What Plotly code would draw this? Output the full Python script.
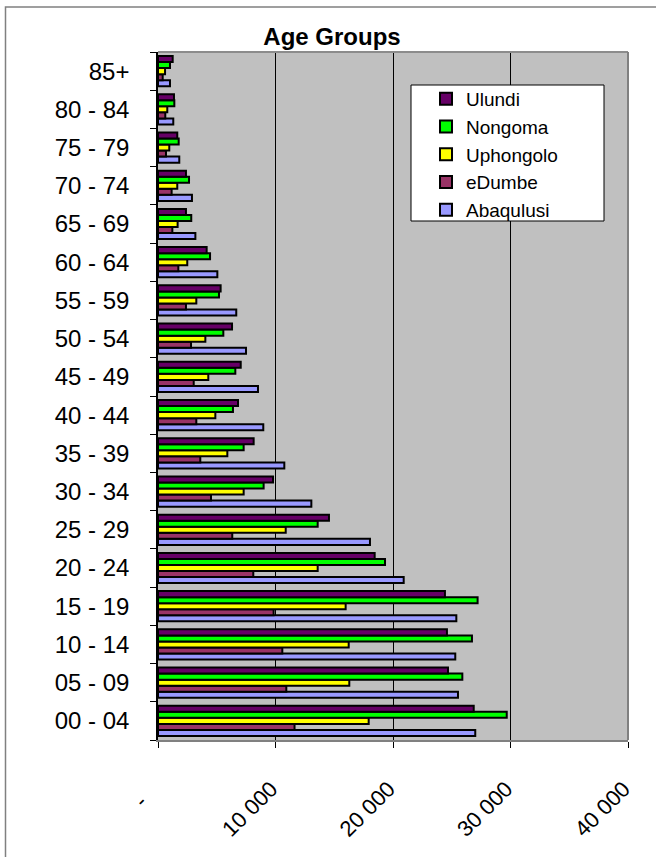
import plotly.graph_objects as go

categories = ["00 - 04", "05 - 09", "10 - 14", "15 - 19", "20 - 24", "25 - 29",
              "30 - 34", "35 - 39", "40 - 44", "45 - 49", "50 - 54", "55 - 59",
              "60 - 64", "65 - 69", "70 - 74", "75 - 79", "80 - 84", "85+"]

ulundi = [26870, 24680, 24590, 24420, 18440, 14550, 9790, 8140, 6810, 7040,
          6300, 5330, 4140, 2380, 2380, 1640, 1360, 1250]
nongoma = [29680, 25900, 26720, 27200, 19320, 13590, 8990, 7290, 6380, 6580,
           5560, 5190, 4430, 2830, 2640, 1760, 1390, 1020]
uphongolo = [17930, 16280, 16230, 15970, 13590, 10870, 7290, 5900, 4880, 4280,
             4030, 3260, 2490, 1670, 1640, 960, 790, 600]
edumbe = [11620, 10920, 10580, 9840, 8110, 6320, 4510, 3600, 3260, 3040,
          2810, 2380, 1730, 1220, 1160, 680, 620, 400]
abaqulusi = [27000, 25530, 25300, 25390, 20910, 18040, 13050, 10750, 8960, 8510,
             7490, 6660, 5050, 3180, 2890, 1810, 1300, 1020]

x_tickvals = [0, 10000, 20000, 30000, 40000]
x_ticktext = ["-\u00a0\u00a0\u00a0\u00a0", "10 000\u00a0", "20 000\u00a0",
              "30 000\u00a0", "40 000\u00a0"]

series = [
    ("Abaqulusi", abaqulusi, "#9999FF"),
    ("eDumbe", edumbe, "#993366"),
    ("Uphongolo", uphongolo, "#FFFF00"),
    ("Nongoma", nongoma, "#00FF00"),
    ("Ulundi", ulundi, "#660066"),
]

FONT = "Arial, Liberation Sans, sans-serif"

fig = go.Figure()
for name, vals, color in series:
    fig.add_trace(go.Bar(
        y=categories, x=vals, name=name, orientation="h",
        marker=dict(color=color, line=dict(color="black", width=2)),
    ))

W, H = 656, 857
L, R, T, B = 158, 28, 52, 117
pw, ph = W - L - R, H - T - B

def px2x(px):
    return (px - L) / pw

def px2y(py):
    return (H - B - py) / ph

fig.update_layout(
    width=W, height=H,
    margin=dict(l=L, r=R, t=T, b=B, autoexpand=False),
    paper_bgcolor="white",
    plot_bgcolor="#C0C0C0",
    barmode="group",
    bargap=0.21,
    bargroupgap=0,
    font=dict(family=FONT, color="black"),
    title=dict(text="<b>Age Groups</b>", font=dict(size=24, family=FONT, color="black"),
               x=332 / W, xanchor="center", xref="container",
               y=1 - 37 / H, yanchor="middle", yref="container"),
    legend=dict(
        x=px2x(426), y=px2y(80), xanchor="left", yanchor="top",
        traceorder="reversed",
        bgcolor="rgba(0,0,0,0)", borderwidth=0,
        font=dict(size=19, family=FONT, color="black"),
        tracegroupgap=0,
    ),
    showlegend=True,
)

fig.update_xaxes(
    range=[0, 40000],
    tickvals=x_tickvals, ticktext=x_ticktext,
    tickangle=-45,
    tickfont=dict(size=22, family=FONT, color="black"),
    ticks="outside", ticklen=6, tickcolor="black", tickwidth=1,
    ticklabelstandoff=15,
    showgrid=True, gridcolor="black", gridwidth=1,
    showline=True, linecolor="#808080", linewidth=2,
    zeroline=False,
    automargin=False,
    fixedrange=True,
)

fig.update_yaxes(
    type="category",
    categoryorder="array", categoryarray=categories,
    tickfont=dict(size=24, family=FONT, color="black"),
    ticks="outside", ticklen=6, tickcolor="black", tickwidth=1,
    tickson="boundaries",
    ticklabelstandoff=22,
    showgrid=False,
    showline=True, linecolor="black", linewidth=1.5,
    automargin=False,
    fixedrange=True,
)

# plot area border (top & right in gray)
fig.add_shape(type="line", xref="paper", yref="paper", x0=0, x1=1, y0=1, y1=1,
              line=dict(color="#8C8C8C", width=2), layer="above")
fig.add_shape(type="line", xref="paper", yref="paper", x0=1, x1=1, y0=0, y1=1,
              line=dict(color="#808080", width=2), layer="above")

# legend box
fig.add_shape(type="rect", xref="paper", yref="paper",
              x0=px2x(411), x1=px2x(604), y0=px2y(221), y1=px2y(85),
              fillcolor="white", line=dict(color="black", width=1), layer="above")

# chart outer border
fig.add_shape(type="rect", xref="paper", yref="paper",
              x0=px2x(5.5), x1=px2x(662), y0=px2y(870), y1=px2y(7),
              line=dict(color="#808080", width=1.5), layer="below")

fig.write_html("out.html", config={"displayModeBar": False},
               post_script="document.body.style.margin='0';")
